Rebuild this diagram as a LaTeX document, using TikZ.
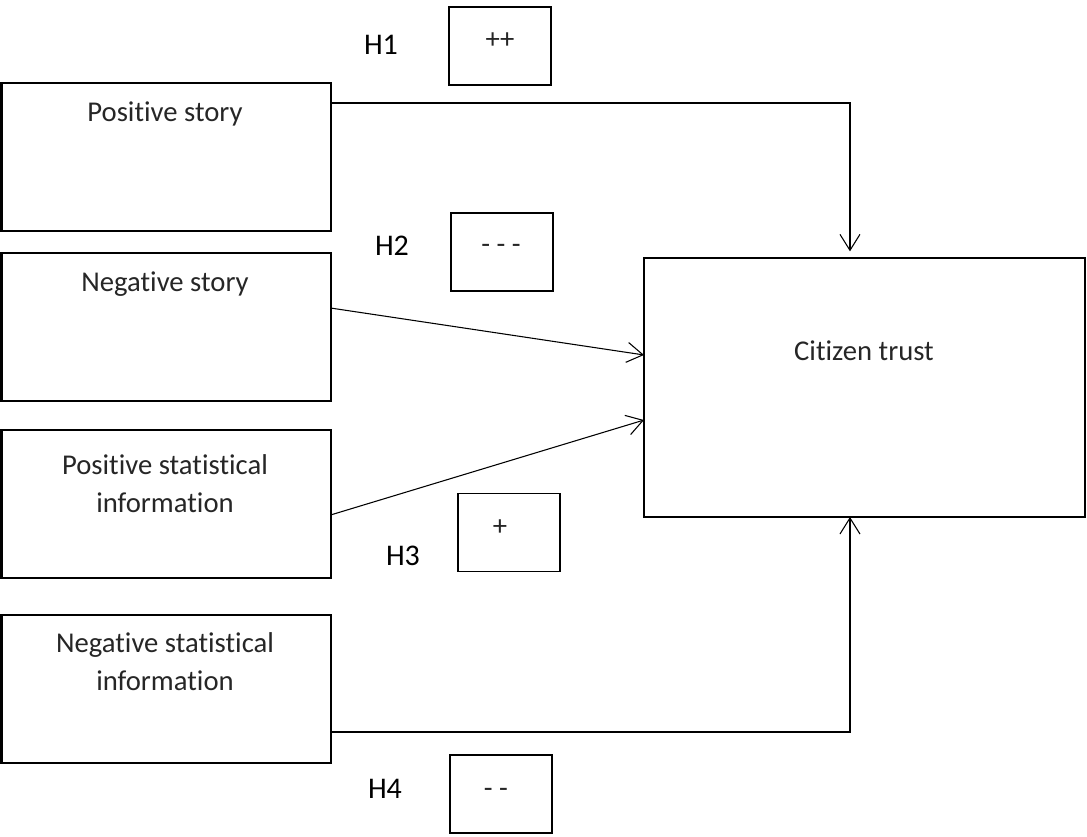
\documentclass[tikz,border=0pt]{standalone}
\usepackage{fontspec}
\setmainfont{Carlito}[Ligatures={TeX,NoCommon}]
\usetikzlibrary{arrows.meta,positioning}

\begin{document}
\begin{tikzpicture}[x=0.75pt,y=-0.75pt,
  caixa/.style={draw, line width=1.5pt, inner sep=0pt, outer sep=0pt,
    minimum width=246.75pt, minimum height=111pt},
  sinal/.style={draw, line width=1.1pt, inner sep=0pt, outer sep=0pt,
    minimum width=76.5pt, minimum height=58.5pt},
  rot/.style={font=\fontsize{21.5}{28.5}\selectfont, text=black!85, align=center, inner sep=0pt},
  hip/.style={font=\fontsize{22.5}{26}\selectfont, inner sep=0pt},
  pijl/.style={-{Straight Barb[length=12pt,width=15pt]}, line width=0.8pt}]

\useasboundingbox (0,0) rectangle (1087,836);

% ================= caixas da esquerda =================
\node[caixa] (pos) at (166,157) {};
\node[caixa] (neg) at (166,327) {};
\node[caixa] (pst) at (166,504) {};
\node[caixa] (nst) at (166,688.5) {};
\node[rot] (postxt) at (165,114) {Positive story};
\node[rot] (negtxt) at (165,284) {Negative story};
\node[rot] (psttxt) at (165,484) {Positive statistical\\information};
\node[rot] (nsttxt) at (165,662) {Negative statistical\\information};

% ================= variavel dependente =================
\node[draw, line width=1.5pt, inner sep=0pt, outer sep=0pt,
  minimum width=330.75pt, minimum height=194.25pt] (trust) at (864.5,387.5) {};
\node[rot] (trusttxt) at (864,351) {Citizen trust};

% ================= hipoteses =================
\node[hip] (h1) at (381,45) {H1};
\node[sinal] (s1) at (500,46) {};
\node[rot] (s1txt) at (500,41) {++};
\node[hip] (h2) at (392,246) {H2};
\node[sinal] (s2) at (502,252) {};
\node[rot] (s2txt) at (501,249) {- - -};
\node[hip] (h3) at (403,556) {H3};
\node[sinal] (s3) at (509,532.5) {};
\node[rot] (s3txt) at (500,528) {+};
\node[hip] (h4) at (385,789) {H4};
\node[sinal] (s4) at (501,794) {};
\node[rot] (s4txt) at (496,793) {- -};

% ================= setas =================
\draw[pijl] ([yshift=-15pt]pos.north east) -| ([xshift=-10.9pt,yshift=5pt]trust.north);
\draw[pijl] ([yshift=14.25pt]neg.east) -- ([yshift=24.4pt]trust.west);
\draw[pijl] ([yshift=-8.25pt]pst.east) -- ([yshift=-24.4pt]trust.west);
\draw[pijl] ([yshift=-32.6pt]nst.east) -| ([xshift=-10.9pt]trust.south);

\end{tikzpicture}
\end{document}
